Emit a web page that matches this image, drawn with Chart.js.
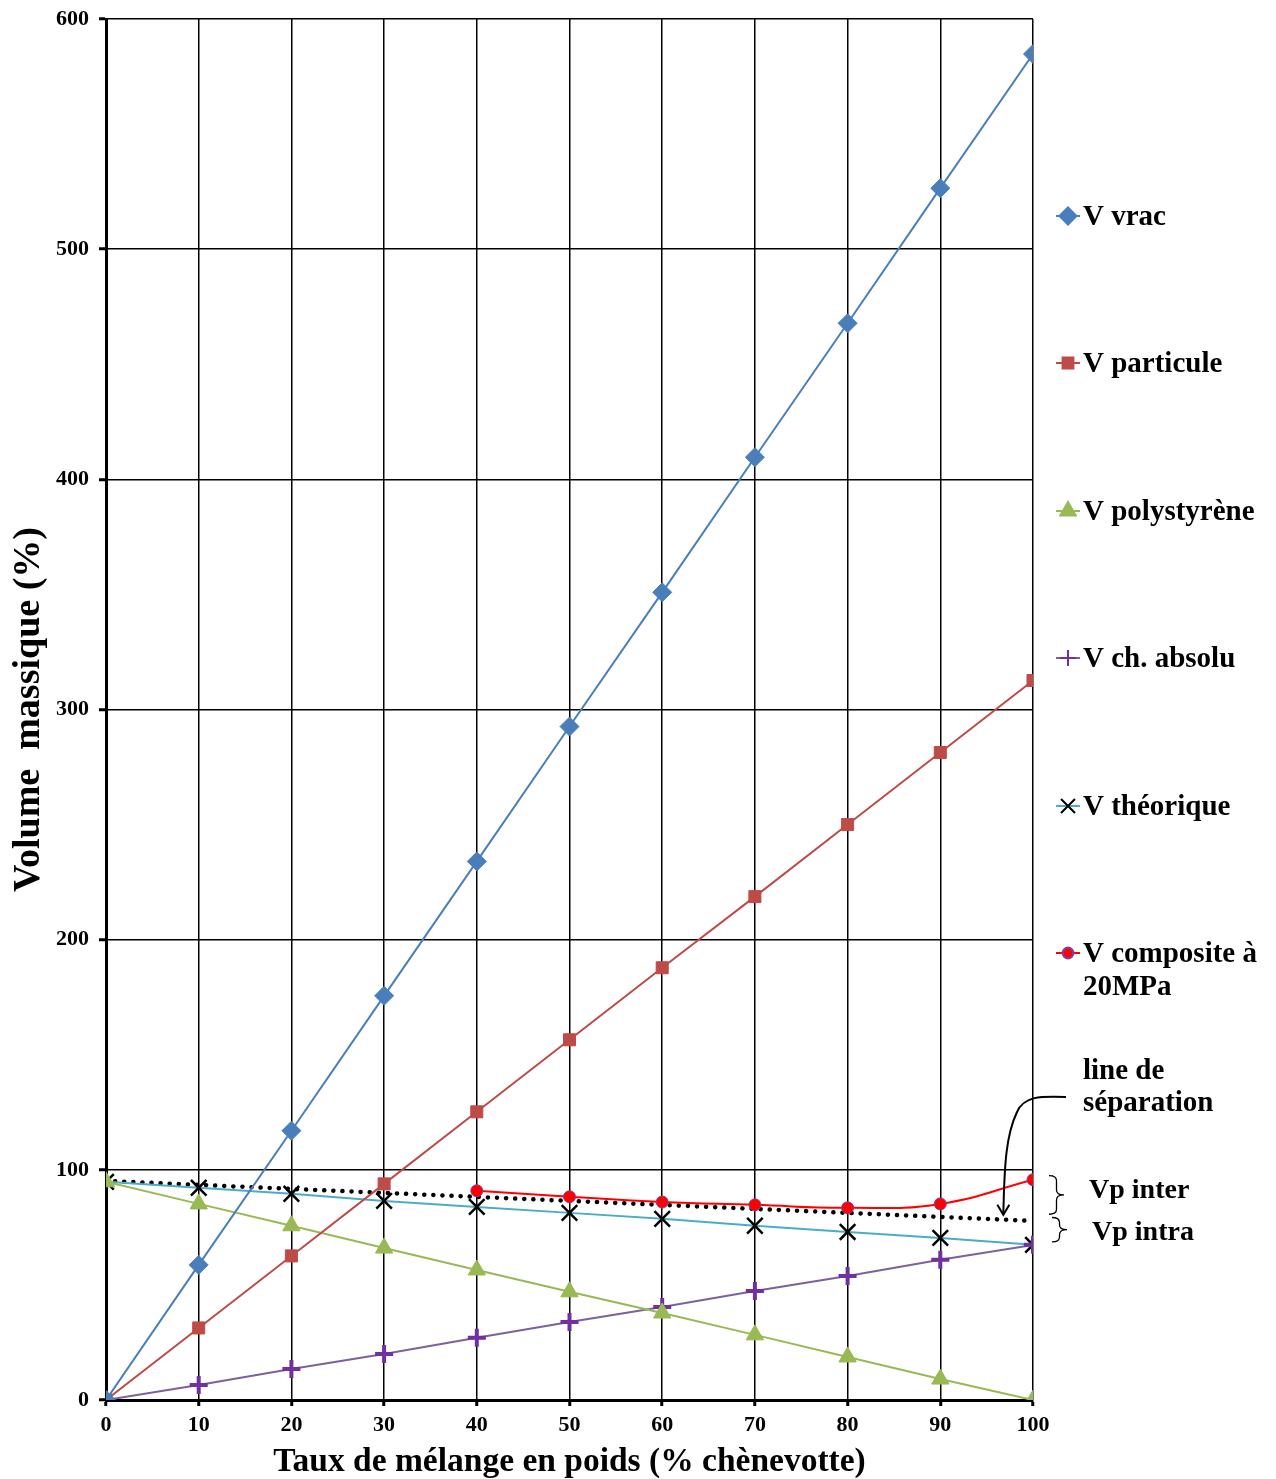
<!DOCTYPE html>
<html>
<head>
<meta charset="utf-8">
<script src="https://cdn.jsdelivr.net/npm/chart.js@4.4.1/dist/chart.umd.min.js"></script>
<style>
  html, body { margin: 0; padding: 0; background: #fff; }
  #wrap { position: relative; width: 1276px; height: 1479px; }
</style>
</head>
<body>
<div id="wrap"><canvas id="chart" width="1276" height="1479"></canvas></div>
<script>
// taux de mélange (% chènevotte)
const taux = [0, 10, 20, 30, 40, 50, 60, 70, 80, 90, 100];
const vVrac = [0, 58.7, 117, 175.6, 234, 292.6, 350.9, 409.6, 467.8, 526.5, 584.8];
const vParticule = [0, 31.3, 62.6, 93.9, 125.2, 156.5, 187.8, 218.7, 250, 281.3, 312.6];
const vPolystyrene = [94.8, 85.2, 75.7, 66, 56.5, 47, 37.8, 28.3, 18.7, 9.1, 0];
const vChAbsolu = [0, 6.5, 13.5, 20, 27, 33.9, 40.4, 47.4, 53.9, 60.9, 67.4];
const vTheorique = [94.8, 92.2, 89.6, 86.5, 83.9, 81.3, 78.7, 75.7, 73, 70.4, 67.4];
const tauxComposite = [40, 50, 60, 70, 80, 90, 100];
const vComposite = [90.9, 88.3, 86, 84.8, 83.5, 85.2, 95.7];
const tauxSeparation = [0, 100];
const vSeparation = [95.2, 77.8];

const serif = "'Liberation Serif', 'Times New Roman', serif";

function pts(xs, ys) {
  return xs.map((x, i) => ({ x: x, y: ys[i] }));
}

const series = [
  { label: 'V vrac', data: pts(taux, vVrac), line: '#4A7EBB', fill: '#4A7EBB', style: 'rectRot', r: 9.5, bw: 1 },
  { label: 'V particule', data: pts(taux, vParticule), line: '#BE4B48', fill: '#BE4B48', style: 'rect', r: 8.5, bw: 1 },
  { label: 'V polystyrène', data: pts(taux, vPolystyrene), line: '#98B954', fill: '#98B954', style: 'triangle', r: 10, bw: 1 },
  { label: 'V ch. absolu', data: pts(taux, vChAbsolu), line: '#7D60A0', fill: '#7030A0', style: 'cross', r: 9, bw: 4 },
  { label: 'V théorique', data: pts(taux, vTheorique), line: '#4BACC6', fill: '#000000', style: 'crossRot', r: 11, bw: 2.5 },
  { label: 'V composite à 20MPa', data: pts(tauxComposite, vComposite), line: '#FF0000', fill: '#FF0000', style: 'circle', r: 6, bw: 1, border: '#8040A0', tension: 0.45 }
];

const datasets = series.map(s => ({
  label: s.label,
  data: s.data,
  borderColor: s.line,
  borderWidth: 2,
  pointStyle: s.style,
  pointRadius: s.r,
  pointHoverRadius: s.r,
  pointBackgroundColor: s.fill,
  pointBorderColor: s.border || s.fill,
  pointBorderWidth: s.bw,
  tension: s.tension || 0,
  fill: false
}));

datasets.push({
  label: 'line de séparation',
  data: pts(tauxSeparation, vSeparation),
  borderColor: '#000',
  borderWidth: 4.5,
  borderDash: [0.1, 9],
  borderCapStyle: 'round',
  pointRadius: 0,
  fill: false
});

const legendRows = [216, 363, 511, 658, 806, 953];

const extras = {
  id: 'extras',
  afterDraw(chart) {
    const ctx = chart.ctx;
    const xs = chart.scales.x, ys = chart.scales.y;
    ctx.save();
    // légende
    ctx.font = 'bold 29px ' + serif;
    ctx.textBaseline = 'middle';
    ctx.textAlign = 'left';
    series.forEach((s, i) => {
      const y = legendRows[i];
      ctx.strokeStyle = s.line;
      ctx.lineWidth = 2;
      ctx.beginPath();
      ctx.moveTo(1056, y);
      ctx.lineTo(1080, y);
      ctx.stroke();
      ctx.fillStyle = s.fill;
      ctx.strokeStyle = s.border || s.fill;
      Chart.helpers.drawPoint(ctx, { pointStyle: s.style, radius: s.r * 0.9, rotation: 0, borderWidth: s.bw }, 1068, y);
      ctx.fillStyle = '#000';
      if (i === 5) {
        ctx.fillText('V composite à', 1083, y + 2);
        ctx.fillText('20MPa', 1083, y + 35);
      } else {
        ctx.fillText(s.label, 1083, y + 2);
      }
    });

    // line de séparation
    ctx.fillText('line de', 1083, 1072);
    ctx.fillText('séparation', 1083, 1104);
    const tipX = xs.getPixelForValue(96.8), tipY = ys.getPixelForValue(80.5);
    ctx.strokeStyle = '#000';
    ctx.lineWidth = 2;
    ctx.beginPath();
    ctx.moveTo(1066, 1097);
    ctx.bezierCurveTo(1040, 1096, 1024, 1096, 1017, 1112);
    ctx.bezierCurveTo(1006, 1135, tipX + 1, 1165, tipX, tipY);
    ctx.stroke();
    ctx.beginPath();
    ctx.moveTo(tipX - 6, tipY - 10);
    ctx.lineTo(tipX, tipY);
    ctx.lineTo(tipX + 6, tipY - 10);
    ctx.stroke();

    // accolades Vp
    function brace(x, y1, y2, w) {
      const m = (y1 + y2) / 2, r = 5, h = x + w / 2;
      ctx.beginPath();
      ctx.moveTo(x, y1);
      ctx.quadraticCurveTo(h, y1, h, y1 + r);
      ctx.lineTo(h, m - r);
      ctx.quadraticCurveTo(h, m, x + w, m);
      ctx.quadraticCurveTo(h, m, h, m + r);
      ctx.lineTo(h, y2 - r);
      ctx.quadraticCurveTo(h, y2, x, y2);
      ctx.stroke();
    }
    ctx.lineWidth = 1.3;
    brace(1049, ys.getPixelForValue(97.5), ys.getPixelForValue(80.7), 15);
    brace(1052, ys.getPixelForValue(79.3), ys.getPixelForValue(68.7), 15);
    ctx.font = 'bold 28px ' + serif;
    ctx.fillText('Vp inter', 1089, 1191);
    ctx.fillText('Vp intra', 1092, 1233);
    ctx.restore();
  }
};

const ctx = document.getElementById('chart');
const myChart = new Chart(ctx, {
  type: 'line',
  data: { datasets: datasets },
  options: {
    responsive: false,
    animation: false,
    layout: { padding: { top: 19, right: 243, left: 0, bottom: 0 } },
    plugins: { legend: { display: false }, tooltip: { enabled: false } },
    scales: {
      x: {
        type: 'linear',
        min: 0, max: 100,
        ticks: { stepSize: 10, color: '#000', font: { family: serif, size: 22, weight: 'bold' }, padding: 6 },
        grid: { color: '#000', lineWidth: 1.5, tickLength: 6, tickColor: '#000', tickWidth: 3 },
        border: { color: '#000', width: 3 },
        title: { display: true, text: 'Taux de mélange en poids (% chènevotte)', color: '#000', font: { family: serif, size: 33.5, weight: 'bold', lineHeight: 1.0 }, padding: { top: 0, bottom: 0 } },
        afterFit: s => { s.height = 79; }
      },
      y: {
        min: 0, max: 600,
        ticks: { stepSize: 100, color: '#000', font: { family: serif, size: 22, weight: 'bold' }, padding: 10 },
        grid: { color: '#000', lineWidth: 1.5, tickLength: 7, tickColor: '#000', tickWidth: 3 },
        border: { color: '#000', width: 3 },
        title: { display: true, text: 'Volume  massique (%)', color: '#000', font: { family: serif, size: 38, weight: 'bold' }, padding: { top: 6, bottom: 4 } },
        afterFit: s => { s.width = 106; s.paddingTop = 0; s.paddingBottom = 0; }
      }
    }
  },
  plugins: [extras]
});
</script>
</body>
</html>
